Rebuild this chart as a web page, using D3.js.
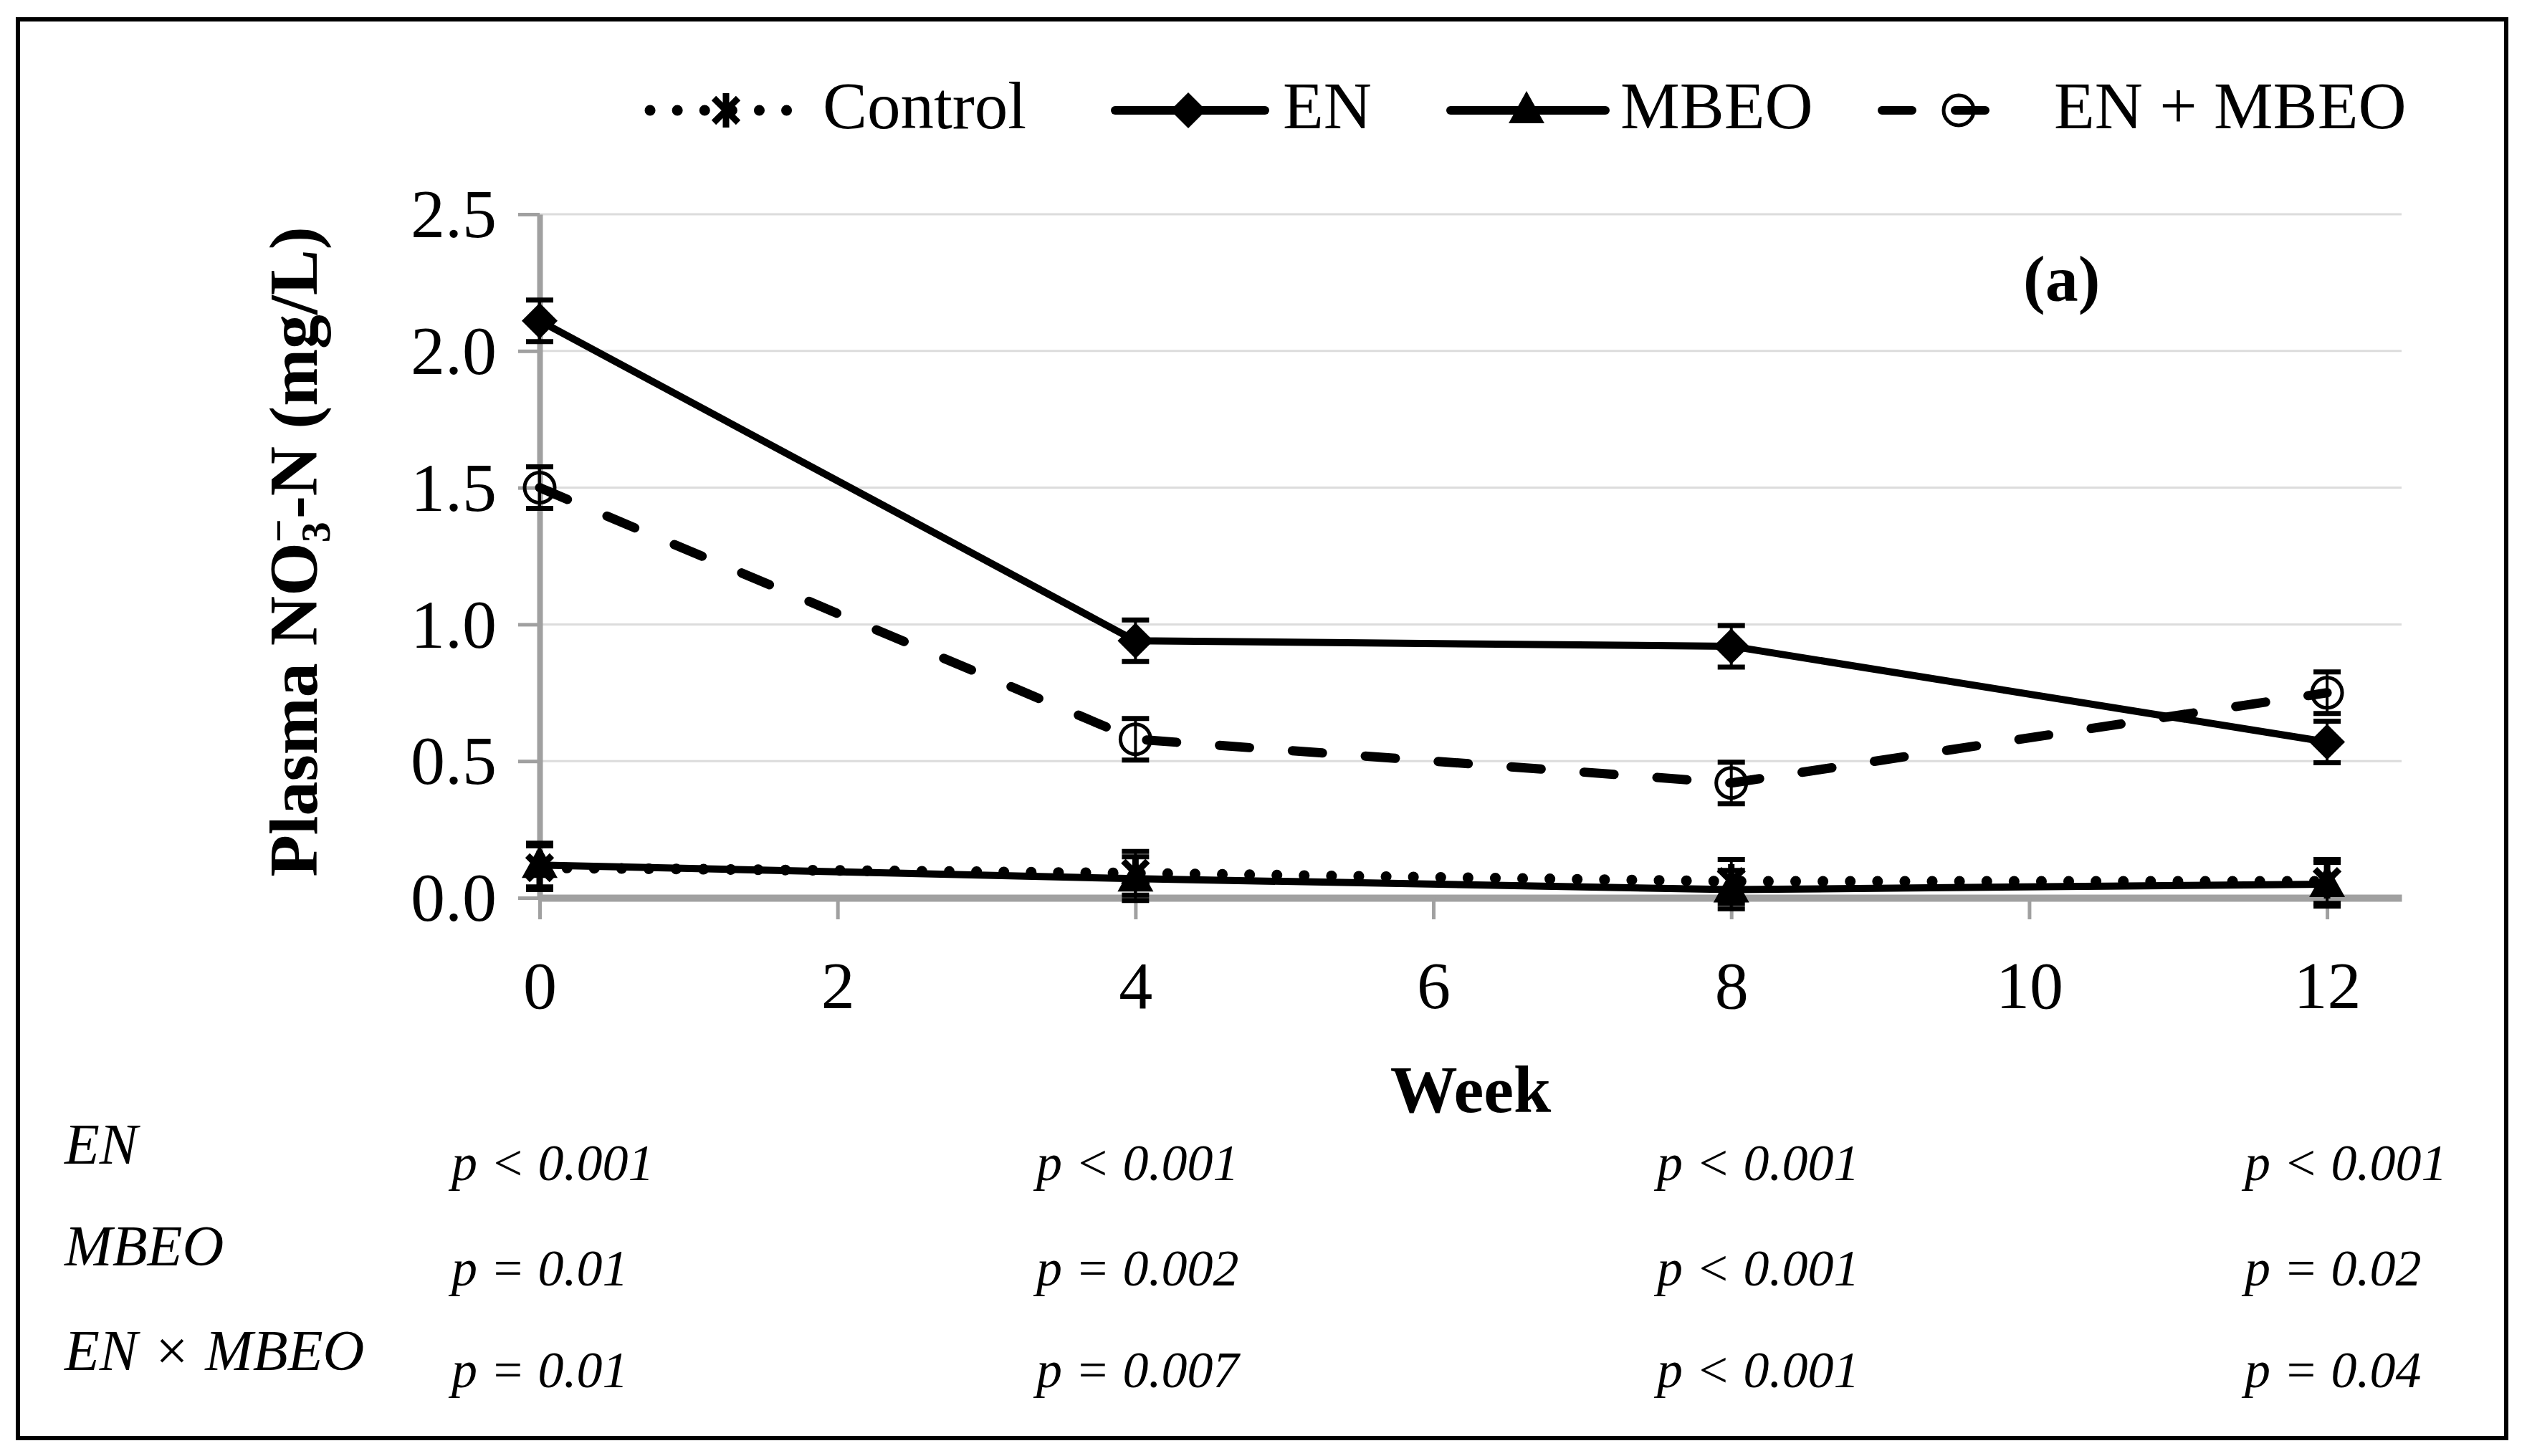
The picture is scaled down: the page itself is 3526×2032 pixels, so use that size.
<!DOCTYPE html>
<html>
<head>
<meta charset="utf-8">
<script src="https://cdn.jsdelivr.net/npm/d3@7"></script>
<style>
  body { margin: 0; background: #fff; }
  svg { display: block; }
  text { font-family: "Liberation Serif", "Times New Roman", serif; fill: #000; }
</style>
</head>
<body>
<div id="chart"></div>
<script>
// Data
var weeks = [0, 4, 8, 12];
var controlVals = [0.11, 0.09, 0.06, 0.06];
var controlErr = [0.08, 0.08, 0.08, 0.08];
var enVals = [2.11, 0.94, 0.92, 0.57];
var enErr = [0.076, 0.076, 0.076, 0.076];
var mbeoVals = [0.12, 0.07, 0.03, 0.05];
var mbeoErr = [0.08, 0.08, 0.07, 0.08];
var enMbeoVals = [1.50, 0.58, 0.42, 0.75];
var enMbeoErr = [0.076, 0.076, 0.076, 0.076];

var xTicks = [0, 2, 4, 6, 8, 10, 12];
var yTicks = [0, 0.5, 1.0, 1.5, 2.0, 2.5];

var seriesNames = ["Control", "EN", "MBEO", "EN + MBEO"];

var pRowLabels = ["EN", "MBEO", "EN × MBEO"];
var pEN = ["p < 0.001", "p < 0.001", "p < 0.001", "p < 0.001"];
var pMBEO = ["p = 0.01", "p = 0.002", "p < 0.001", "p = 0.02"];
var pInter = ["p = 0.01", "p = 0.007", "p < 0.001", "p = 0.04"];

// svg area
var svgWidth = 3526;
var svgHeight = 2032;

var svg = d3.select("#chart")
  .append("svg")
  .attr("width", svgWidth)
  .attr("height", svgHeight);

// outer frame
svg.append("rect")
  .attr("x", 25).attr("y", 27)
  .attr("width", 3472).attr("height", 1980)
  .attr("fill", "#fff")
  .attr("stroke", "#000")
  .attr("stroke-width", 6);

// scales
var xScale = d3.scaleLinear().domain([0, 12.5]).range([753, 3351]);
var yScale = d3.scaleLinear().domain([0, 2.5]).range([1253, 299]);

// gridlines
svg.append("g")
  .selectAll("line")
  .data(yTicks.filter(d => d > 0))
  .enter()
  .append("line")
  .attr("x1", xScale(0))
  .attr("x2", xScale(12.5))
  .attr("y1", d => yScale(d))
  .attr("y2", d => yScale(d))
  .attr("stroke", "#dcdcdc")
  .attr("stroke-width", 3);

// axes
var axisColor = "#a0a0a0";

var yAxis = svg.append("g")
  .attr("transform", `translate(${xScale(0)}, 0)`)
  .call(d3.axisLeft(yScale)
    .tickValues(yTicks)
    .tickFormat(d3.format(".1f"))
    .tickSize(30)
    .tickSizeOuter(0)
    .tickPadding(30));

yAxis.select(".domain").attr("stroke", axisColor).attr("stroke-width", 8);
yAxis.selectAll(".tick line").attr("stroke", axisColor).attr("stroke-width", 5);
yAxis.selectAll(".tick text")
  .attr("font-size", 96)
  .attr("font-family", "Liberation Serif, serif")
  .attr("dy", "0.33em");

var xAxis = svg.append("g")
  .attr("transform", `translate(0, ${yScale(0)})`)
  .call(d3.axisBottom(xScale)
    .tickValues(xTicks)
    .tickFormat(d3.format("d"))
    .tickSize(30)
    .tickSizeOuter(0)
    .tickPadding(57));

xAxis.select(".domain").attr("stroke", axisColor).attr("stroke-width", 10);
xAxis.selectAll(".tick line").attr("stroke", axisColor).attr("stroke-width", 5);
xAxis.selectAll(".tick text")
  .attr("font-size", 94)
  .attr("font-family", "Liberation Serif, serif");

// axis titles
svg.append("text")
  .attr("x", xScale(6.25))
  .attr("y", 1552)
  .attr("text-anchor", "middle")
  .attr("font-size", 94)
  .attr("font-weight", "bold")
  .text("Week");

var yTitle = svg.append("text")
  .attr("transform", "translate(442, 770) rotate(-90)")
  .attr("text-anchor", "middle")
  .attr("font-size", 96)
  .attr("font-weight", "bold");
yTitle.append("tspan").text("Plasma NO");
yTitle.append("tspan").attr("font-size", 58).attr("dy", 18).text("3");
yTitle.append("tspan").attr("font-size", 58).attr("dx", -29).attr("dy", -52).text("−");
yTitle.append("tspan").attr("dy", 34).text("-N (mg/L)");

// panel letter
svg.append("text")
  .attr("x", 2823)
  .attr("y", 420)
  .attr("font-size", 92)
  .attr("font-weight", "bold")
  .text("(a)");

// series
var series = [
  { name: seriesNames[0], vals: controlVals, err: controlErr, marker: "asterisk",
    width: 15, dash: "0.1,38", cap: "round" },
  { name: seriesNames[1], vals: enVals, err: enErr, marker: "diamond",
    width: 10, dash: null, cap: "round" },
  { name: seriesNames[2], vals: mbeoVals, err: mbeoErr, marker: "triangle",
    width: 10, dash: null, cap: "round" },
  { name: seriesNames[3], vals: enMbeoVals, err: enMbeoErr, marker: "circle",
    width: 13, dash: "42,60", cap: "round" }
];

function markerPath(type) {
  if (type === "diamond") return "M0,-25 L25,0 L0,25 L-25,0 Z";
  if (type === "triangle") return "M0,-27 L25,18 L-25,18 Z";
  if (type === "asterisk") return "M-17,-17 L17,17 M-17,17 L17,-17 M0,-24 L0,24";
  return null;
}

function drawMarker(g, type, x, y) {
  if (type === "circle") {
    g.append("circle")
      .attr("cx", x).attr("cy", y).attr("r", 21)
      .attr("fill", "none")
      .attr("stroke", "#000")
      .attr("stroke-width", 5);
  } else if (type === "asterisk") {
    g.append("path")
      .attr("transform", `translate(${x}, ${y})`)
      .attr("d", markerPath(type))
      .attr("fill", "none")
      .attr("stroke", "#000")
      .attr("stroke-width", 9);
  } else {
    g.append("path")
      .attr("transform", `translate(${x}, ${y})`)
      .attr("d", markerPath(type))
      .attr("fill", "#000");
  }
}

var line = d3.line()
  .x((d, i) => xScale(weeks[i]))
  .y(d => yScale(d));

var plotGroup = svg.append("g");

series.forEach(function(s) {
  var path = plotGroup.append("path")
    .datum(s.vals)
    .attr("d", line)
    .attr("fill", "none")
    .attr("stroke", "#000")
    .attr("stroke-width", s.width)
    .attr("stroke-linecap", s.cap)
    .attr("stroke-linejoin", "round");
  if (s.dash) path.attr("stroke-dasharray", s.dash);
});

// error bars
series.forEach(function(s) {
  var eg = plotGroup.append("g");
  s.vals.forEach(function(v, i) {
    var x = xScale(weeks[i]);
    var yTop = yScale(v + s.err[i]);
    var yBot = yScale(v - s.err[i]);
    eg.append("line")
      .attr("x1", x).attr("x2", x)
      .attr("y1", yTop).attr("y2", yBot)
      .attr("stroke", "#000").attr("stroke-width", 4);
    [yTop, yBot].forEach(function(yy) {
      eg.append("line")
        .attr("x1", x - 19).attr("x2", x + 19)
        .attr("y1", yy).attr("y2", yy)
        .attr("stroke", "#000").attr("stroke-width", 7);
    });
  });
});

// markers
series.forEach(function(s) {
  var mg = plotGroup.append("g");
  s.vals.forEach(function(v, i) {
    drawMarker(mg, s.marker, xScale(weeks[i]), yScale(v));
  });
});

// legend
var legendItems = [
  { x1: 907, x2: 1118, mx: 1013, tx: 1148 },
  { x1: 1556, x2: 1765, mx: 1658, tx: 1790 },
  { x1: 2024, x2: 2240, mx: 2130, tx: 2261 },
  { x1: 2626, x2: 2793, mx: 2733, tx: 2866 }
];
var legendY = 154;
var legend = svg.append("g");

series.forEach(function(s, i) {
  var it = legendItems[i];
  var l = legend.append("line")
    .attr("x1", it.x1).attr("x2", it.x2)
    .attr("y1", legendY).attr("y2", legendY)
    .attr("stroke", "#000")
    .attr("stroke-width", s.marker === "asterisk" ? 15 : 12)
    .attr("stroke-linecap", "round");
  if (s.marker === "asterisk") l.attr("stroke-dasharray", "0.1,38");
  if (s.marker === "circle") l.attr("stroke-dasharray", "42,60");
  drawMarker(legend, s.marker, it.mx, legendY);
  legend.append("text")
    .attr("x", it.tx)
    .attr("y", 179)
    .attr("font-size", 93)
    .text(s.name);
});

// p-value table
var colX = [630, 1446, 2312, 3132];
var labelY = [1624, 1766, 1912];
var valueY = [1647, 1794, 1936];
var pRows = [pEN, pMBEO, pInter];

var table = svg.append("g").attr("font-style", "italic");

pRowLabels.forEach(function(lbl, r) {
  table.append("text")
    .attr("x", 90)
    .attr("y", labelY[r])
    .attr("font-size", 80)
    .attr("font-style", "italic")
    .text(lbl);
  pRows[r].forEach(function(txt, c) {
    table.append("text")
      .attr("x", colX[c])
      .attr("y", valueY[r])
      .attr("font-size", 72)
      .attr("font-style", "italic")
      .text(txt);
  });
});
</script>
</body>
</html>
